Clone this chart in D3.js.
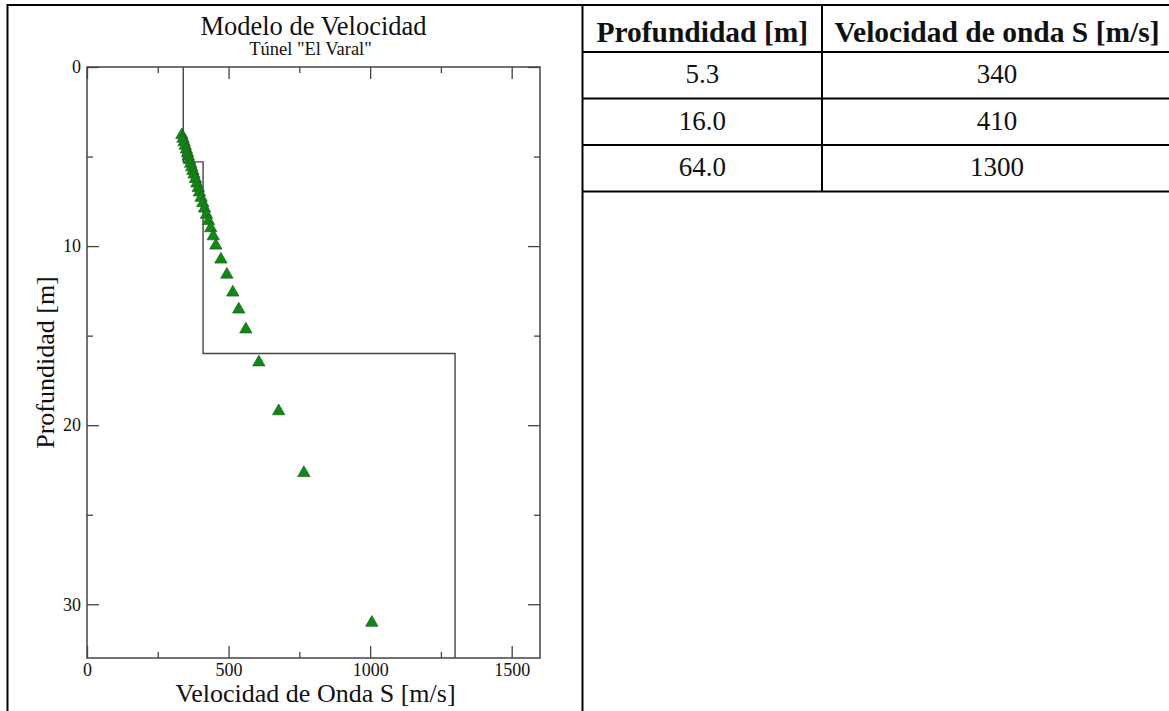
<!DOCTYPE html>
<html>
<head>
<meta charset="utf-8">
<script src="https://cdn.jsdelivr.net/npm/d3@7"></script>
<style>
  body { margin: 0; background: #fff; }
  svg { display: block; }
  text { font-family: "Liberation Serif", "Times New Roman", serif; fill: #111; }
</style>
</head>
<body>
<div id="page"></div>
<script>
// table (model layers)
const tableHeaders = ['Profundidad [m]', 'Velocidad de onda S [m/s]'];
const layerDepth = [5.3, 16.0, 64.0];
const layerVel = [340, 410, 1300];

const obsDepth = [3.8, 4.0, 4.2, 4.4, 4.6, 4.8, 5.0, 5.2, 5.4, 5.6, 5.8, 6.0, 6.25, 6.5, 6.75, 7.0, 7.3, 7.6, 7.9, 8.25, 8.6, 9.0, 9.45,
  9.97, 10.75, 11.59, 12.59, 13.54, 14.65, 16.49, 19.22, 22.67, 31.03];
const obsVel = [335, 339, 343, 347, 351, 355, 358, 362, 366, 370, 374, 378, 383, 388, 393, 397, 403, 409, 415, 422, 429, 437, 446,
  455, 473, 494, 515, 536, 561, 607, 677, 766, 1006];

// axes
const velDomain = [0, 1600];
const depthDomain = [0, 33];
const velMajor = [0, 500, 1000, 1500];
const velMinor = [250, 750, 1250];
const depthMajor = [0, 10, 20, 30];
const depthMinor = [5, 15, 25];

const W = 1169, H = 711;
const plot = { left: 87, right: 540, top: 67, bottom: 658 };

const svg = d3.select('#page').append('svg')
  .attr('width', W)
  .attr('height', H);

svg.append('rect').attr('width', W).attr('height', H).attr('fill', '#fff');

// page / table borders
const borders = svg.append('g').attr('stroke', '#000').attr('fill', 'none');
borders.append('line').attr('x1', 7.5).attr('x2', 7.5).attr('y1', 4).attr('y2', H).attr('stroke-width', 2);
borders.append('line').attr('x1', 7).attr('x2', W).attr('y1', 5).attr('y2', 5).attr('stroke-width', 2);
borders.append('line').attr('x1', 582.5).attr('x2', 582.5).attr('y1', 4).attr('y2', H).attr('stroke-width', 2);

// ---------- chart ----------
const x = d3.scaleLinear().domain(velDomain).range([plot.left, plot.right]);
const y = d3.scaleLinear().domain(depthDomain).range([plot.top, plot.bottom]);

const chart = svg.append('g').attr('class', 'chart');
const axisColor = '#444';

function drawAxis(axis, tx, ty, labels) {
  const g = chart.append('g')
    .attr('transform', `translate(${tx},${ty})`)
    .call(axis);
  g.select('.domain').remove();
  g.selectAll('line').attr('stroke', axisColor).attr('stroke-width', 1.3);
  if (labels) {
    g.selectAll('text')
      .attr('fill', '#111')
      .style('font-family', '"Liberation Serif", serif')
      .style('font-size', '18px');
  } else {
    g.selectAll('text').remove();
  }
}

// major + minor ticks on all four sides, pointing inwards
drawAxis(d3.axisBottom(x).tickValues(velMajor).tickSize(-12).tickPadding(5).tickFormat(d3.format('d')), 0, plot.bottom, true);
drawAxis(d3.axisBottom(x).tickValues(velMinor).tickSize(-6), 0, plot.bottom, false);
drawAxis(d3.axisTop(x).tickValues(velMajor).tickSize(-12), 0, plot.top, false);
drawAxis(d3.axisTop(x).tickValues(velMinor).tickSize(-6), 0, plot.top, false);
drawAxis(d3.axisLeft(y).tickValues(depthMajor).tickSize(-12).tickPadding(6).tickFormat(d3.format('d')), plot.left, 0, true);
drawAxis(d3.axisLeft(y).tickValues(depthMinor).tickSize(-6), plot.left, 0, false);
drawAxis(d3.axisRight(y).tickValues(depthMajor).tickSize(-12), plot.right, 0, false);
drawAxis(d3.axisRight(y).tickValues(depthMinor).tickSize(-6), plot.right, 0, false);

chart.append('clipPath').attr('id', 'plot-clip')
  .append('rect')
  .attr('x', plot.left).attr('y', plot.top)
  .attr('width', plot.right - plot.left).attr('height', plot.bottom - plot.top);

// step profile from the layer table
const profile = [[layerVel[0], 0]];
for (let i = 0; i < layerDepth.length; i++) {
  profile.push([layerVel[i], layerDepth[i]]);
  if (i + 1 < layerDepth.length) profile.push([layerVel[i + 1], layerDepth[i]]);
}
chart.append('path')
  .datum(profile)
  .attr('clip-path', 'url(#plot-clip)')
  .attr('fill', 'none')
  .attr('stroke', '#444')
  .attr('stroke-width', 1.4)
  .attr('d', d3.line().x(d => x(d[0])).y(d => y(d[1])));

// observed points
const tri = d3.symbol(d3.symbolTriangle, 66);
chart.append('g')
  .selectAll('path')
  .data(obsDepth.map((d, i) => ({ depth: d, vel: obsVel[i] })))
  .enter()
  .append('path')
  .attr('transform', d => `translate(${x(d.vel)},${y(d.depth)})`)
  .attr('d', tri)
  .attr('fill', '#0e8a0e')
  .attr('stroke', '#1f5a2a')
  .attr('stroke-width', 0.7);

// frame
chart.append('rect')
  .attr('x', plot.left).attr('y', plot.top)
  .attr('width', plot.right - plot.left).attr('height', plot.bottom - plot.top)
  .attr('fill', 'none')
  .attr('stroke', axisColor)
  .attr('stroke-width', 1.5);

// titles
const midX = (plot.left + plot.right) / 2;
chart.append('text').attr('x', midX).attr('y', 35).attr('text-anchor', 'middle')
  .style('font-size', '26.5px').text('Modelo de Velocidad');
chart.append('text').attr('x', midX - 3).attr('y', 55).attr('text-anchor', 'middle')
  .style('font-size', '18.5px').text('Túnel "El Varal"');
chart.append('text').attr('x', midX + 2).attr('y', 702).attr('text-anchor', 'middle')
  .style('font-size', '26px').text('Velocidad de Onda S [m/s]');
chart.append('text')
  .attr('transform', `translate(54,${(plot.top + plot.bottom) / 2}) rotate(-90)`)
  .attr('text-anchor', 'middle')
  .style('font-size', '26px').text('Profundidad [m]');

// ---------- table ----------
const table = { left: 582.5, mid: 822, right: 1172, top: 5, rowH: [47, 46.5, 46.5, 46.5] };
const rowY = [table.top];
table.rowH.forEach(h => rowY.push(rowY[rowY.length - 1] + h));

const tg = svg.append('g').attr('class', 'table');
tg.selectAll('line.row')
  .data(rowY.slice(1))
  .enter()
  .append('line')
  .attr('class', 'row')
  .attr('x1', table.left).attr('x2', table.right)
  .attr('y1', d => d).attr('y2', d => d)
  .attr('stroke', '#000').attr('stroke-width', 2);
tg.append('line')
  .attr('x1', table.mid).attr('x2', table.mid)
  .attr('y1', table.top).attr('y2', rowY[rowY.length - 1])
  .attr('stroke', '#000').attr('stroke-width', 2);
tg.append('line')
  .attr('x1', table.right - 1).attr('x2', table.right - 1)
  .attr('y1', table.top).attr('y2', rowY[rowY.length - 1])
  .attr('stroke', '#000').attr('stroke-width', 2);

const colX = [(table.left + table.mid) / 2, (table.mid + table.right) / 2];
tg.selectAll('text.head')
  .data(tableHeaders)
  .enter()
  .append('text')
  .attr('class', 'head')
  .attr('x', (d, i) => colX[i])
  .attr('y', rowY[0] + 37)
  .attr('text-anchor', 'middle')
  .style('font-size', '29.5px')
  .style('font-weight', 'bold')
  .text(d => d);

const rows = layerDepth.map((d, i) => [d.toFixed(1), String(layerVel[i])]);
rows.forEach((r, i) => {
  tg.selectAll(null)
    .data(r)
    .enter()
    .append('text')
    .attr('x', (d, j) => colX[j])
    .attr('y', rowY[i + 1] + 31)
    .attr('text-anchor', 'middle')
    .style('font-size', '27px')
    .text(d => d);
});
</script>
</body>
</html>
